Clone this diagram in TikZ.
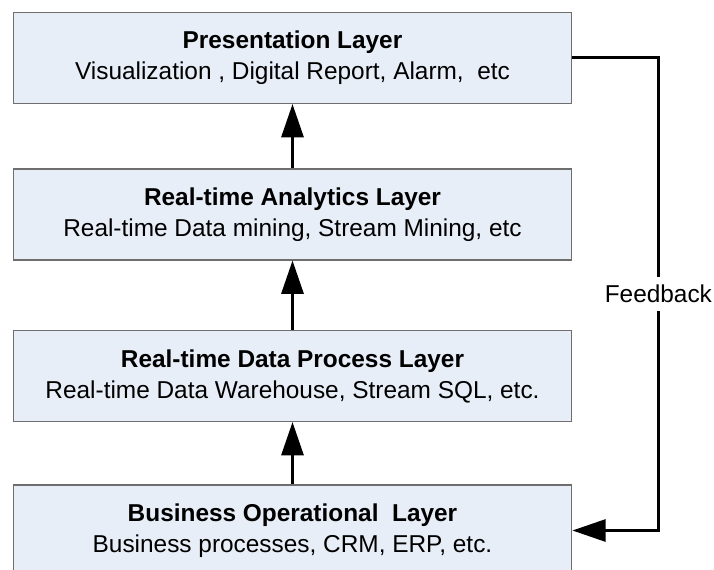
\documentclass[tikz,border=0pt]{standalone}
\usepackage{fontspec}
\setmainfont{Liberation Sans}
\usetikzlibrary{arrows.meta}
\definecolor{layerfill}{HTML}{E8EEF7}
\definecolor{layerdraw}{HTML}{6E6E6E}
\begin{document}
\begin{tikzpicture}[x=0.75pt,y=-0.75pt,
    layer/.style={draw=layerdraw, fill=layerfill, line width=0.8pt,
      minimum width=419pt, minimum height=68.25pt, inner sep=0pt,
      align=center, font=\fontsize{18.3}{23.25}\selectfont,
      execute at begin node={\rule{0pt}{17.5pt}}},
    flow/.style={-{Triangle[width=16.5pt,length=25pt]}, line width=2.25pt}]
  \useasboundingbox (0,0) rectangle (714,570);
  \clip (0,0) rectangle (714,570);
  % layers
  \node[layer] (pres) at (292.5,58)    {\textbf{Presentation Layer}\\Visualization , Digital Report, Alarm,~~etc};
  \node[layer] (anal) at (292.5,214.5) {\textbf{Real-time Analytics Layer}\\Real-time Data mining, Stream Mining, etc};
  \node[layer] (proc) at (292.5,376)   {\textbf{Real-time Data Process Layer}\\Real-time Data Warehouse, Stream SQL, etc.};
  \node[layer] (biz)  at (292.5,530.5) {\textbf{Business Operational~~Layer}\\Business processes, CRM, ERP, etc.};
  % data flow
  \draw[flow] (biz.north)  -- (proc.south);
  \draw[flow] (proc.north) -- (anal.south);
  \draw[flow] (anal.north) -- (pres.south);
  % feedback loop
  \draw[flow] (pres.east) -- ++(86,0) |- node[pos=0.25, fill=white, inner xsep=1pt, inner ysep=6pt,
    font=\fontsize{18.3}{23.25}\selectfont] (fb) {Feedback} (biz.east);
\end{tikzpicture}
\end{document}
